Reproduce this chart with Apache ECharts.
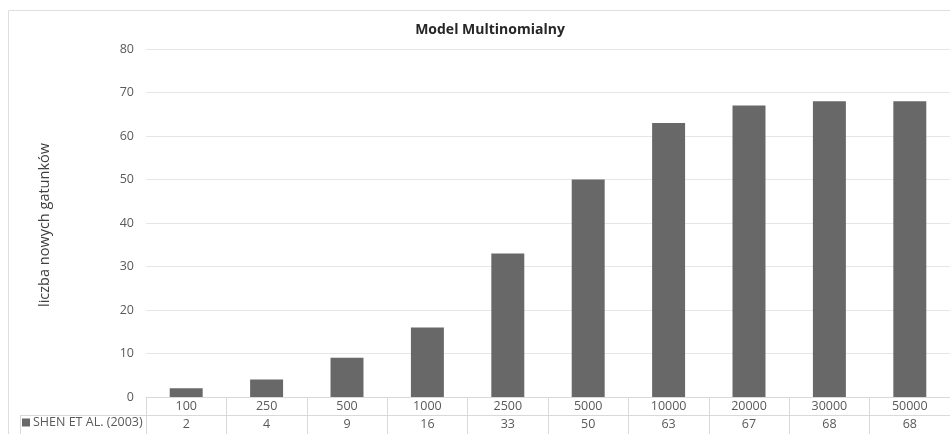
<!DOCTYPE html>
<html>
<head>
<meta charset="utf-8">
<script src="https://cdn.jsdelivr.net/npm/echarts@6/dist/echarts.min.js"></script>
<style>
html,body{margin:0;padding:0;background:#fff;}
#chart{width:950px;height:434px;}
</style>
</head>
<body>
<div id="chart"></div>
<script>
const title = 'Model Multinomialny';
const yAxisTitle = 'liczba nowych gatunków';
const seriesName = 'SHEN ET AL. (2003)';
const categories = ['100','250','500','1000','2500','5000','10000','20000','30000','50000'];
const values = [2, 4, 9, 16, 33, 50, 63, 67, 68, 68];
const yMin = 0, yMax = 80, yStep = 10;

const FONT = '"Open Sans", "Noto Sans", sans-serif';
const GRID_L = 146, GRID_T = 49, GRID_W = 808, GRID_H = 348;
const chart = echarts.init(document.getElementById('chart'), null, {renderer: 'canvas'});
chart.setOption({
  backgroundColor: '#ffffff',
  animation: false,
  textStyle: {fontFamily: FONT},
  title: {
    text: title, left: 485, top: 18, textAlign: 'center',
    textStyle: {fontFamily: FONT, fontSize: 14, fontWeight: 'bold', color: '#262626'}
  },
  legend: {
    data: [seriesName], left: 22, top: 416, icon: 'rect', itemWidth: 8, itemHeight: 8, itemGap: 0,
    padding: 0,
    textStyle: {fontFamily: FONT, fontSize: 12.5, color: '#595959', padding: [0,0,0,-2]}
  },
  grid: {left: GRID_L, top: GRID_T, width: GRID_W, height: GRID_H, containLabel: false},
  xAxis: [{
    type: 'category', data: categories, position: 'bottom',
    axisLine: {show: true, lineStyle: {color: '#d9d9d9', width: 1}},
    axisTick: {show: true, alignWithLabel: false, length: 37, inside: false, lineStyle: {color: '#d9d9d9'}},
    axisLabel: {margin: 3, fontFamily: FONT, fontSize: 12.5, color: '#595959', interval: 0},
    splitLine: {show: false}
  }, {
    type: 'category', data: values.map(String), position: 'bottom', offset: 18,
    axisLine: {show: false}, axisTick: {show: false},
    axisLabel: {margin: 3, fontFamily: FONT, fontSize: 12.5, color: '#595959', interval: 0},
    splitLine: {show: false}
  }],
  yAxis: {
    type: 'value', min: yMin, max: yMax, interval: yStep,
    axisLine: {show: false}, axisTick: {show: false},
    axisLabel: {margin: 12, fontFamily: FONT, fontSize: 12.5, color: '#595959'},
    splitLine: {lineStyle: {color: '#e6e6e6', width: 1}}
  },
  series: [{
    name: seriesName, type: 'bar', data: values, xAxisIndex: 0,
    barWidth: '41%',
    itemStyle: {color: '#686868'}
  }],
  graphic: [
    {type: 'rect', silent: true, z: -1, shape: {x: 8.5, y: 10.5, width: 1000, height: 500},
     style: {fill: 'none', stroke: '#dedede', lineWidth: 1}},
    {type: 'line', silent: true, shape: {x1: 20, y1: 415.5, x2: 960, y2: 415.5},
     style: {stroke: '#d9d9d9', lineWidth: 1}},
    {type: 'line', silent: true, shape: {x1: 20.5, y1: 415, x2: 20.5, y2: 434},
     style: {stroke: '#d9d9d9', lineWidth: 1}},
    {type: 'text', silent: true, x: 45, y: 225, rotation: Math.PI / 2,
     style: {text: yAxisTitle, fontFamily: FONT, fontSize: 14.5, fill: '#404040', align: 'center', verticalAlign: 'middle'}}
  ]
});
</script>
</body>
</html>
